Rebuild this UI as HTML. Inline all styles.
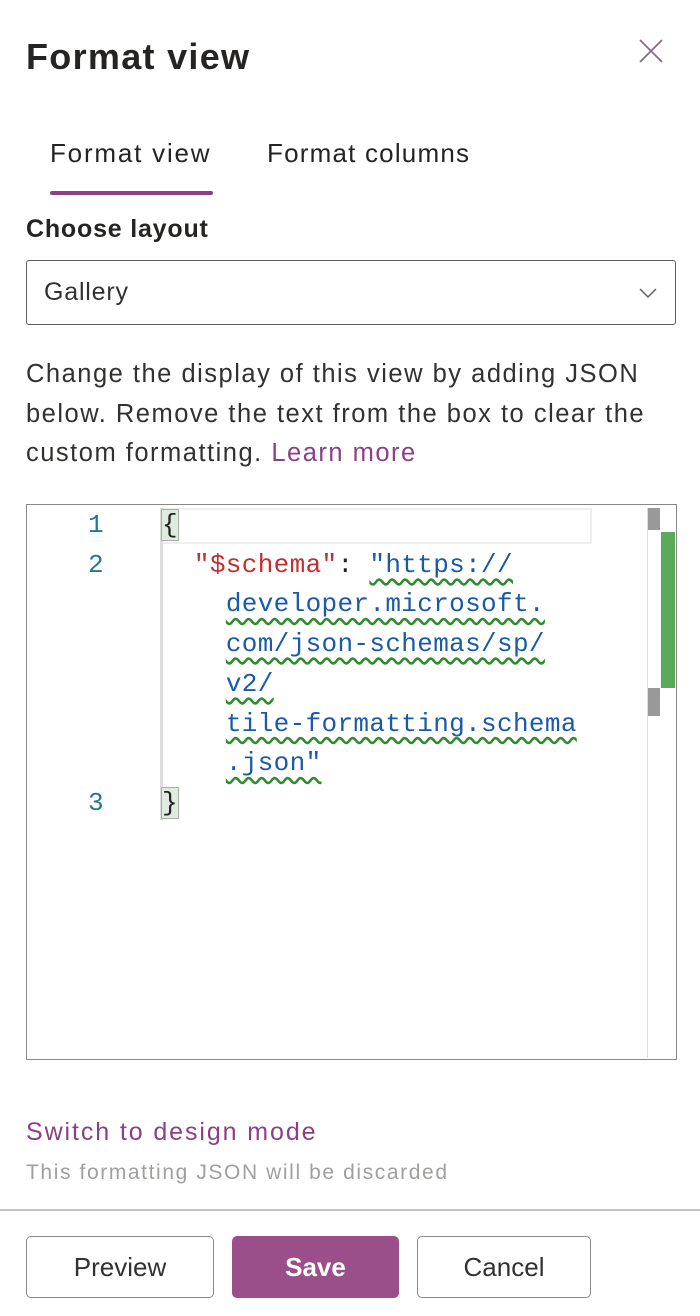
<!DOCTYPE html>
<html><head><meta charset="utf-8"><style>
body{margin:0;width:700px;height:1316px;background:#fff;position:relative;overflow:hidden;font-family:"Liberation Sans",sans-serif;color:#323130}
.a{position:absolute;white-space:nowrap}
.code{position:absolute;font-family:"Liberation Mono",monospace;font-size:26px;line-height:39.7px;white-space:pre;letter-spacing:0.35px}
.u{color:#1a5aa8;text-decoration:underline wavy #2e8b2e;text-underline-offset:6px}
.btn{position:absolute;top:1236px;height:62px;border:1.5px solid #8a8886;border-radius:5px;box-sizing:border-box;font-size:26px;display:flex;align-items:center;justify-content:center}
</style></head><body>
<div class="a" style="left:26px;top:36px;font-size:36px;font-weight:600;color:#252423;letter-spacing:1.3px">Format view</div>
<svg class="a" style="left:638px;top:38px" width="26" height="26"><path d="M2 2L24 24M24 2L2 24" stroke="#8a6a8a" stroke-width="1.8"/></svg>
<div class="a" style="left:50px;top:138px;font-size:26px;color:#252423;letter-spacing:1.8px">Format view</div>
<div class="a" style="left:267px;top:138px;font-size:26px;color:#252423;letter-spacing:1.2px">Format columns</div>
<div class="a" style="left:50px;top:191px;width:163px;height:4px;background:#8c3f85;border-radius:2px"></div>
<div class="a" style="left:26px;top:215px;font-size:25px;font-weight:600;color:#252423;letter-spacing:0.8px">Choose layout</div>
<div class="a" style="left:26px;top:260px;width:650px;height:65px;border:1.5px solid #605e5c;border-radius:3px;box-sizing:border-box"></div>
<div class="a" style="left:44px;top:278px;font-size:25px;letter-spacing:0.8px">Gallery</div>
<svg class="a" style="left:638px;top:286px" width="20" height="14"><polyline points="2,3 10,11 18,3" fill="none" stroke="#605e5c" stroke-width="1.5"/></svg>
<div class="a" style="left:26px;top:355px;font-size:25.5px;line-height:39.5px;color:#323130;letter-spacing:1.5px">Change the display of this view by adding JSON<br>below. Remove the text from the box to clear the<br>custom formatting. <span style="color:#8c3f85">Learn more</span></div>
<div class="a" style="left:26px;top:504px;width:651px;height:556px;border:1.5px solid #8a8886;box-sizing:border-box"></div>
<div class="a" style="left:162px;top:508px;width:430px;height:36px;border:2px solid #eee;box-sizing:border-box;border-left:none"></div>
<div class="a" style="left:160px;top:508px;width:3px;height:312px;background:#ddd"></div>
<div class="a" style="left:648px;top:508px;width:12px;height:22px;background:#999"></div>
<div class="a" style="left:648px;top:688px;width:12px;height:28px;background:#999"></div>
<div class="a" style="left:661px;top:532px;width:14px;height:156px;background:#5aaa5a"></div>
<div class="a" style="left:647px;top:508px;width:1px;height:550px;background:#ddd"></div>
<div class="code" style="left:88px;top:506px;color:#237893">1
2





3</div>
<div class="code" style="left:162px;top:506px;color:#222"><span style="background:#e0ebe0;outline:1px solid #aaa">{</span>
  <span style="color:#c03030">"$schema"</span>: <span class="u">"https://</span>
    <span class="u">developer.microsoft.</span>
    <span class="u">com/json-schemas/sp/</span>
    <span class="u">v2/</span>
    <span class="u">tile-formatting.schema</span>
    <span class="u">.json"</span>
<span style="background:#e0ebe0;outline:1px solid #aaa">}</span></div>
<div class="a" style="left:26px;top:1118px;font-size:25px;color:#8c3f85;letter-spacing:1.9px">Switch to design mode</div>
<div class="a" style="left:26px;top:1161px;font-size:21px;color:#a19f9d;letter-spacing:1.6px">This formatting JSON will be discarded</div>
<div class="a" style="left:0;top:1209px;width:700px;height:2px;background:#c8c6c4"></div>
<div class="btn" style="left:26px;width:188px">Preview</div>
<div class="btn" style="left:232px;width:167px;background:#9b4f8a;border-color:#9b4f8a;color:#fff;font-weight:600">Save</div>
<div class="btn" style="left:417px;width:174px">Cancel</div>
</body></html>
